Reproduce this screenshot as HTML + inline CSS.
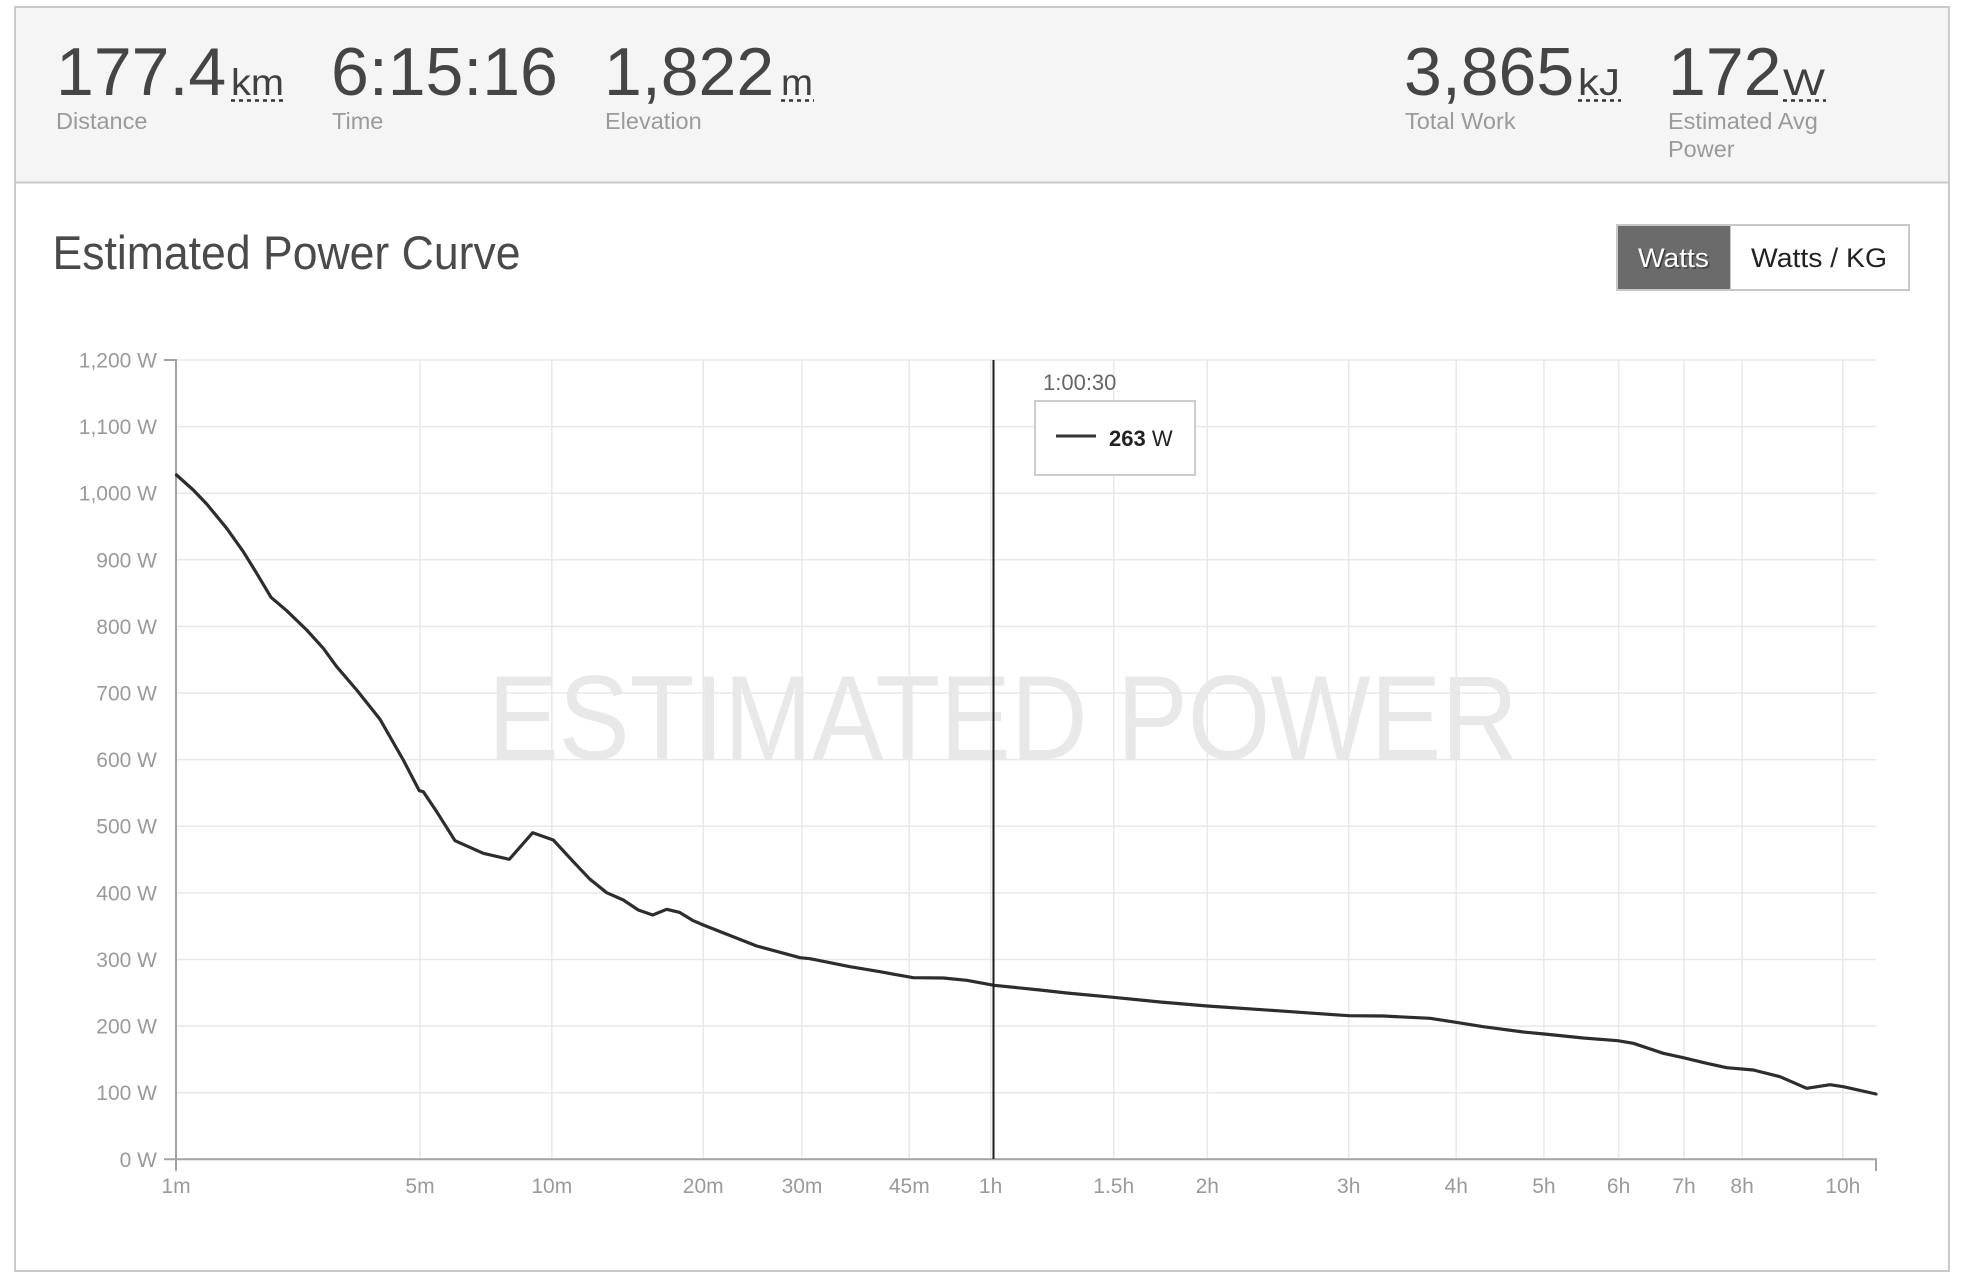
<!DOCTYPE html>
<html>
<head>
<meta charset="utf-8">
<style>
  html, body { margin: 0; padding: 0; background: #ffffff; }
  body { width: 1962px; height: 1282px; overflow: hidden; }
  svg { display: block; }
  text { font-family: "Liberation Sans", Arial, sans-serif; }
</style>
</head>
<body>
<svg width="1962" height="1282" viewBox="0 0 1962 1282" xmlns="http://www.w3.org/2000/svg">
  <!-- page background -->
  <rect x="0" y="0" width="1962" height="1282" fill="#ffffff"/>
  <!-- header band -->
  <rect x="15" y="7" width="1934" height="175" fill="#f5f5f5"/>
  <!-- outer border -->
  <rect x="15" y="7" width="1934" height="1264" fill="none" stroke="#cacaca" stroke-width="2"/>
  <line x1="15" y1="182.5" x2="1949" y2="182.5" stroke="#cacaca" stroke-width="2"/>

  <!-- header stats -->
  <g fill="#454545" font-size="68">
    <text x="56" y="95">177.4</text>
    <text x="331" y="95">6:15:16</text>
    <text x="604" y="95">1,822</text>
    <text x="1404" y="95">3,865</text>
    <text x="1668" y="95">172</text>
  </g>
  <g fill="#404040" font-size="37">
    <text x="231" y="95" textLength="53" lengthAdjust="spacingAndGlyphs">km</text>
    <text x="781" y="95" textLength="32" lengthAdjust="spacingAndGlyphs">m</text>
    <text x="1578" y="95" textLength="42" lengthAdjust="spacingAndGlyphs">kJ</text>
    <text x="1783" y="95" textLength="42" lengthAdjust="spacingAndGlyphs">W</text>
  </g>
  <g stroke="#333333" stroke-width="2.5" stroke-dasharray="4 4">
    <line x1="231" y1="100.5" x2="285" y2="100.5"/>
    <line x1="781" y1="100.5" x2="814" y2="100.5"/>
    <line x1="1578" y1="100.5" x2="1621" y2="100.5"/>
    <line x1="1783" y1="100.5" x2="1826" y2="100.5"/>
  </g>
  <g fill="#9a9a9a" font-size="23.5">
    <text x="56" y="129">Distance</text>
    <text x="332" y="129">Time</text>
    <text x="605" y="129">Elevation</text>
    <text x="1405" y="129">Total Work</text>
    <text x="1668" y="129">Estimated Avg</text>
    <text x="1668" y="157">Power</text>
  </g>

  <!-- title -->
  <text x="52.5" y="269" font-size="47" fill="#4a4a4a" textLength="468" lengthAdjust="spacingAndGlyphs">Estimated Power Curve</text>

  <!-- toggle buttons -->
  <rect x="1617" y="225" width="292" height="65" fill="#ffffff" stroke="#c8c8c8" stroke-width="2"/>
  <rect x="1618" y="226" width="112" height="63" fill="#6b6b6b"/>
  <line x1="1730.5" y1="225" x2="1730.5" y2="290" stroke="#c8c8c8" stroke-width="1"/>
  <text x="1639.5" y="268.5" font-size="27" fill="#2a2a2a" opacity="0.7" textLength="71" lengthAdjust="spacingAndGlyphs">Watts</text>
  <text x="1638" y="267" font-size="27" fill="#ffffff" textLength="71" lengthAdjust="spacingAndGlyphs">Watts</text>
  <text x="1751" y="267" font-size="27" fill="#222222" textLength="136" lengthAdjust="spacingAndGlyphs">Watts / KG</text>

  <!-- watermark -->
  <g transform="translate(488,759) scale(1,1.155)">
    <text x="0" y="0" font-size="104" fill="#e8e8e8" textLength="1030" lengthAdjust="spacingAndGlyphs">ESTIMATED POWER</text>
  </g>

  <!-- horizontal gridlines -->
  <g stroke="#e8e8e8" stroke-width="1.5">
    <line x1="176" y1="1092.7" x2="1876" y2="1092.7"/>
    <line x1="176" y1="1026.1" x2="1876" y2="1026.1"/>
    <line x1="176" y1="959.5" x2="1876" y2="959.5"/>
    <line x1="176" y1="892.9" x2="1876" y2="892.9"/>
    <line x1="176" y1="826.2" x2="1876" y2="826.2"/>
    <line x1="176" y1="759.6" x2="1876" y2="759.6"/>
    <line x1="176" y1="693.0" x2="1876" y2="693.0"/>
    <line x1="176" y1="626.4" x2="1876" y2="626.4"/>
    <line x1="176" y1="559.8" x2="1876" y2="559.8"/>
    <line x1="176" y1="493.2" x2="1876" y2="493.2"/>
    <line x1="176" y1="426.6" x2="1876" y2="426.6"/>
    <line x1="176" y1="360.0" x2="1876" y2="360.0"/>
  </g>
  <!-- vertical gridlines -->
  <g stroke="#e8e8e8" stroke-width="1.5">
    <line x1="420.0" y1="360" x2="420.0" y2="1159"/>
    <line x1="551.8" y1="360" x2="551.8" y2="1159"/>
    <line x1="703.2" y1="360" x2="703.2" y2="1159"/>
    <line x1="802.0" y1="360" x2="802.0" y2="1159"/>
    <line x1="909.3" y1="360" x2="909.3" y2="1159"/>
    <line x1="990.6" y1="360" x2="990.6" y2="1159"/>
    <line x1="1113.7" y1="360" x2="1113.7" y2="1159"/>
    <line x1="1207.3" y1="360" x2="1207.3" y2="1159"/>
    <line x1="1348.7" y1="360" x2="1348.7" y2="1159"/>
    <line x1="1456.2" y1="360" x2="1456.2" y2="1159"/>
    <line x1="1543.9" y1="360" x2="1543.9" y2="1159"/>
    <line x1="1618.6" y1="360" x2="1618.6" y2="1159"/>
    <line x1="1684.0" y1="360" x2="1684.0" y2="1159"/>
    <line x1="1742.1" y1="360" x2="1742.1" y2="1159"/>
    <line x1="1842.8" y1="360" x2="1842.8" y2="1159"/>
  </g>

  <!-- axes -->
  <g stroke="#a3a3a3" stroke-width="2">
    <line x1="176" y1="359" x2="176" y2="1160"/>
    <line x1="164" y1="360" x2="176" y2="360"/>
    <line x1="164" y1="1159.3" x2="1877" y2="1159.3"/>
    <line x1="176" y1="1159" x2="176" y2="1171"/>
    <line x1="1876" y1="1159" x2="1876" y2="1171"/>
  </g>

  <!-- y labels -->
  <g fill="#9a9a9a" font-size="21" text-anchor="end">
    <text x="157" y="367.5">1,200 W</text>
    <text x="157" y="434.1">1,100 W</text>
    <text x="157" y="500.7">1,000 W</text>
    <text x="157" y="567.3">900 W</text>
    <text x="157" y="633.9">800 W</text>
    <text x="157" y="700.5">700 W</text>
    <text x="157" y="767.1">600 W</text>
    <text x="157" y="833.7">500 W</text>
    <text x="157" y="900.4">400 W</text>
    <text x="157" y="967.0">300 W</text>
    <text x="157" y="1033.6">200 W</text>
    <text x="157" y="1100.2">100 W</text>
    <text x="157" y="1166.8">0 W</text>
  </g>
  <!-- x labels -->
  <g fill="#9a9a9a" font-size="21" text-anchor="middle">
    <text x="176" y="1193">1m</text>
    <text x="420" y="1193">5m</text>
    <text x="551.8" y="1193">10m</text>
    <text x="703.2" y="1193">20m</text>
    <text x="802" y="1193">30m</text>
    <text x="909.3" y="1193">45m</text>
    <text x="990.6" y="1193">1h</text>
    <text x="1113.7" y="1193">1.5h</text>
    <text x="1207.3" y="1193">2h</text>
    <text x="1348.7" y="1193">3h</text>
    <text x="1456.2" y="1193">4h</text>
    <text x="1543.9" y="1193">5h</text>
    <text x="1618.6" y="1193">6h</text>
    <text x="1684" y="1193">7h</text>
    <text x="1742.1" y="1193">8h</text>
    <text x="1842.8" y="1193">10h</text>
  </g>

  <!-- series -->
  <polyline fill="none" stroke="#2d2d2d" stroke-width="3.2" stroke-linejoin="round" stroke-linecap="round"
    points="176.5,475 193.3,490 206.7,504 226.7,528.3 243.3,551.7 256.7,573.3 271,597.3 286.7,610.7 306.7,630 323.3,648.3 336.7,666.7 356.7,690 380,719.3 403.3,760 419.3,790.7 423.3,791.7 436.7,811.7 455,840.7 483.3,853.3 509.3,859.3 532.7,832.7 553.3,840 573.3,861.7 590,879.3 606.7,892.7 623.3,900 638.3,910 652.7,915 666.7,909.3 679.3,912.3 693.3,920.7 703.3,925 756.7,946 766.7,948.7 800,957.7 810,958.7 850,966.7 880,971.7 913.3,977.7 943.3,978 966.7,980.3 994,985.3 1040,990 1066.7,993 1113.3,997.3 1160,1002 1207.3,1006 1276.7,1010.7 1348.7,1015.7 1383.3,1016 1430,1018.3 1456,1022.3 1483.3,1026.7 1523.3,1032 1544.3,1034 1583.3,1038 1617.7,1040.7 1633.3,1043.3 1663.3,1053.3 1683.3,1057.7 1706.7,1063.3 1726.7,1067.7 1753.3,1070 1780,1076.7 1806.7,1088.3 1830,1084.7 1843.3,1086.7 1876,1094"/>

  <!-- crosshair -->
  <line x1="993.5" y1="360" x2="993.5" y2="1159" stroke="#1e1e1e" stroke-width="2"/>

  <!-- tooltip -->
  <text x="1043" y="390" font-size="22" fill="#666666">1:00:30</text>
  <rect x="1035" y="401" width="160" height="74" fill="#ffffff" stroke="#cccccc" stroke-width="2"/>
  <line x1="1056" y1="436" x2="1096" y2="436" stroke="#333333" stroke-width="3"/>
  <text x="1109" y="446" font-size="22" fill="#222222"><tspan font-weight="bold">263</tspan> W</text>
</svg>
</body>
</html>
